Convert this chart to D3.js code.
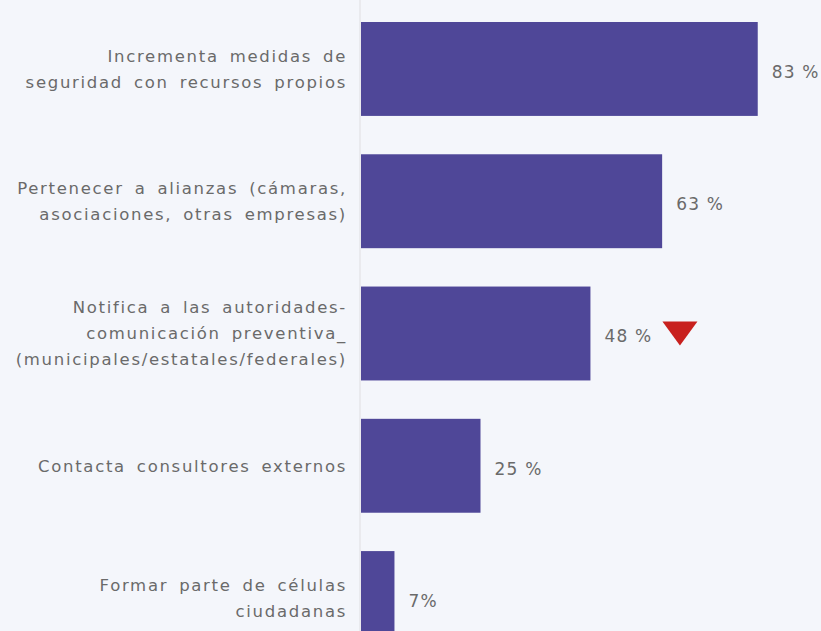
<!DOCTYPE html>
<html>
<head>
<meta charset="utf-8">
<script src="https://cdn.jsdelivr.net/npm/d3@7"></script>
<style>
  html, body { margin: 0; padding: 0; background: #f4f6fb; }
  svg { display: block; }
  text { font-family: "DejaVu Sans", "Liberation Sans", Arial, sans-serif; }
</style>
</head>
<body>
<svg id="chart" width="821" height="631"></svg>
<script>
const categories = [
  "Incrementa medidas de|seguridad con recursos propios",
  "Pertenecer a alianzas (cámaras,|asociaciones, otras empresas)",
  "Notifica a las autoridades-|comunicación preventiva_|(municipales/estatales/federales)",
  "Contacta consultores externos",
  "Formar parte de células|ciudadanas"
];
const values = [83, 63, 48, 25, 7];
const valueLabels = ["83 %", "63 %", "48 %", "25 %", "7%"];
const decreaseFlags = [false, false, true, false, false];

const W = 821, H = 631;
const svg = d3.select("#chart");

const x = d3.scaleLinear().domain([0, 100]).range([361, 839]);
const y = d3.scaleBand().domain(categories).range([22, 645]).paddingInner(0.29).paddingOuter(0);

svg.append("rect").attr("width", W).attr("height", H).attr("fill", "#f4f6fb");

svg.append("line")
  .attr("x1", x(0) - 1).attr("x2", x(0) - 1)
  .attr("y1", 0).attr("y2", H)
  .attr("stroke", "#e2e3e6").attr("stroke-width", 1.2);

svg.selectAll("rect.bar").data(categories).enter().append("rect")
  .attr("class", "bar")
  .attr("x", x(0))
  .attr("y", d => y(d))
  .attr("width", (d, i) => x(values[i]) - x(0))
  .attr("height", y.bandwidth())
  .attr("fill", "#4f4798");

const lineH = 26;
categories.forEach((c, i) => {
  const lines = c.split("|");
  const cy = y(c) + y.bandwidth() / 2;
  const t = svg.append("text")
    .attr("text-anchor", "end")
    .attr("font-size", 16.5)
    .attr("fill", "#6a6a6a")
    .attr("letter-spacing", 1.7)
    .attr("word-spacing", 4);
  lines.forEach((l, j) => {
    t.append("tspan")
      .attr("x", 347)
      .attr("y", cy + (j - (lines.length - 1) / 2) * lineH)
      .attr("dy", "0.35em")
      .text(l);
  });
});

svg.selectAll("text.val").data(categories).enter().append("text")
  .attr("class", "val")
  .attr("x", (d, i) => x(values[i]) + 14)
  .attr("y", (d, i) => y(d) + y.bandwidth() / 2 + 3)
  .attr("dy", "0.35em")
  .attr("font-size", 17)
  .attr("fill", "#6a6a6a")
  .attr("letter-spacing", 1.2)
  .text((d, i) => valueLabels[i]);

categories.forEach((c, i) => {
  if (!decreaseFlags[i]) return;
  const x0 = x(values[i]) + 72;
  const yc = y(c) + y.bandwidth() / 2;
  svg.append("path")
    .attr("d", `M${x0},${yc - 12} L${x0 + 35},${yc - 12} L${x0 + 17.5},${yc + 12} Z`)
    .attr("fill", "#c8201e");
});
</script>
</body>
</html>
